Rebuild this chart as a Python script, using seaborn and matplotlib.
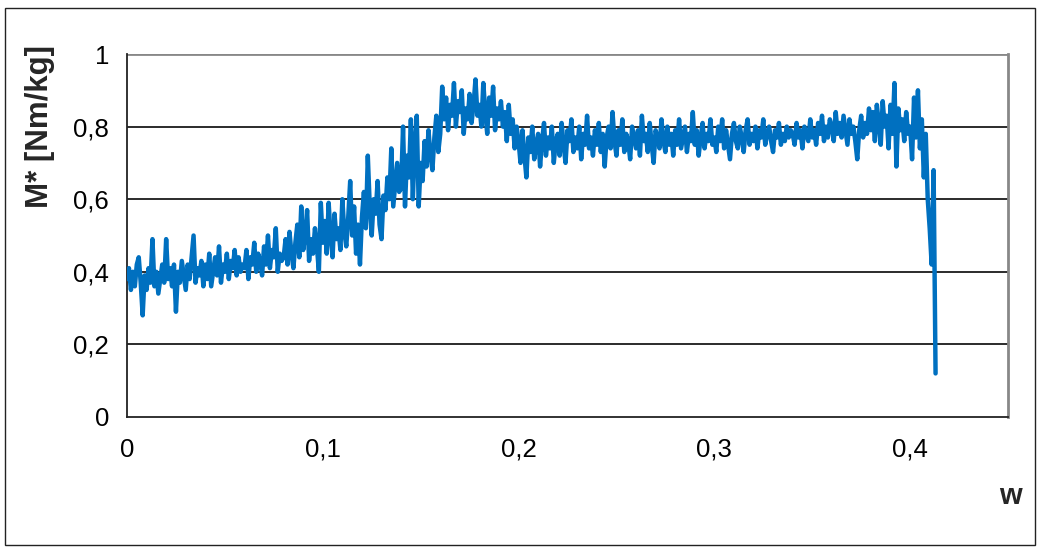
import numpy as np
import pandas as pd
import matplotlib
matplotlib.use("Agg")
import matplotlib.pyplot as plt
import seaborn as sns
from matplotlib.patches import Rectangle

# sampling step of the recorded signal (w units)
w_step = 0.001

# M* values, in order of increasing w
M_rise = [
    0.38,0.41,0.35,0.40,0.36,0.42,0.44,0.37,0.28,0.39,0.35,0.41,0.37,0.49,0.36,0.40,0.34,0.38,0.42,0.37,
    0.49,0.38,0.41,0.36,0.42,0.29,0.40,0.37,0.43,0.39,0.35,0.42,0.38,0.44,0.50,0.37,0.41,0.39,0.43,0.36,
    0.42,0.38,0.45,0.36,0.40,0.44,0.39,0.47,0.37,0.42,0.40,0.45,0.38,0.43,0.41,0.46,0.39,0.44,0.40,0.42,
    0.41,0.46,0.38,0.44,0.42,0.48,0.40,0.45,0.43,0.39,0.47,0.42,0.50,0.41,0.46,0.44,0.52,0.40,0.45,0.43,
    0.44,0.49,0.42,0.51,0.45,0.41,0.48,0.53,0.44,0.58,0.46,0.50,0.57,0.43,0.49,0.45,0.52,0.47,0.40,0.59,
    0.48,0.54,0.45,0.59,0.50,0.44,0.56,0.49,0.52,0.46,0.60,0.51,0.47,0.55,0.65,0.50,0.58,0.45,0.53,0.42,
    0.55,0.62,0.52,0.72,0.58,0.50,0.60,0.56,0.65,0.53,0.49,0.61,0.57,0.66,0.60,0.74,0.58,0.64,0.70,0.62,
]
M_peak = [
    0.63,0.80,0.58,0.72,0.66,0.82,0.60,0.75,0.83,0.58,0.70,0.65,0.76,0.69,0.79,0.72,0.68,0.77,0.83,0.73,
    0.78,0.91,0.82,0.88,0.79,0.86,0.83,0.92,0.80,0.87,0.84,0.90,0.78,0.85,0.82,0.89,0.81,0.86,0.93,0.83,
    0.86,0.80,0.92,0.84,0.78,0.88,0.83,0.91,0.79,0.85,0.82,0.87,0.80,0.84,0.76,0.86,0.78,0.82,0.74,0.80,
    0.76,0.70,0.79,0.72,0.66,0.77,0.73,0.80,0.71,0.75,0.78,0.69,0.76,0.81,0.72,0.77,0.74,0.80,0.70,0.76,
]
M_plateau = [
    0.78,0.72,0.81,0.75,0.70,0.79,0.76,0.82,0.73,0.77,0.74,0.80,0.71,0.78,0.75,0.83,0.74,0.77,0.72,0.79,
    0.75,0.81,0.73,0.78,0.69,0.77,0.80,0.74,0.84,0.76,0.72,0.79,0.75,0.82,0.73,0.78,0.76,0.71,0.80,0.77,
    0.74,0.79,0.72,0.83,0.76,0.78,0.73,0.81,0.75,0.70,0.79,0.77,0.74,0.82,0.76,0.73,0.80,0.75,0.78,0.72,
    0.79,0.75,0.82,0.74,0.77,0.80,0.73,0.78,0.76,0.84,0.75,0.79,0.72,0.77,0.81,0.74,0.78,0.76,0.82,0.75,
    0.77,0.73,0.80,0.76,0.82,0.74,0.79,0.75,0.71,0.78,0.81,0.76,0.74,0.80,0.77,0.73,0.79,0.82,0.75,0.78,
    0.76,0.80,0.74,0.79,0.77,0.82,0.75,0.78,0.80,0.76,0.73,0.79,0.77,0.81,0.75,0.78,0.76,0.80,0.77,0.79,
    0.78,0.75,0.81,0.77,0.79,0.74,0.80,0.78,0.76,0.82,0.77,0.79,0.75,0.81,0.78,0.83,0.76,0.80,0.77,0.82,
    0.80,0.76,0.84,0.78,0.81,0.77,0.83,0.79,0.75,0.82,0.78,0.80,0.76,0.71,0.79,0.83,0.77,0.81,0.78,0.85,
    0.79,0.84,0.76,0.86,0.81,0.75,0.87,0.80,0.83,0.74,0.86,0.78,0.92,0.69,0.85,0.79,0.82,0.76,0.84,0.78,
]
M_drop = [0.80,0.71,0.88,0.77,0.90,0.74,0.82,0.66,0.78,0.60,0.52,0.42,0.68,0.12]

x_ticks = [0, 0.1, 0.2, 0.3, 0.4]
x_tick_labels = ["0", "0,1", "0,2", "0,3", "0,4"]
y_ticks = [0, 0.2, 0.4, 0.6, 0.8, 1.0]
y_tick_labels = ["0", "0,2", "0,4", "0,6", "0,8", "1"]

M = np.array(M_rise + M_peak + M_plateau + M_drop)
w = np.arange(len(M)) * w_step
df = pd.DataFrame({"w": w, "M": M})

sns.set_theme(style="white")
plt.rcParams["font.family"] = ["Liberation Sans", "DejaVu Sans"]

W, H = 1039, 547
fig = plt.figure(figsize=(W / 100, H / 100), dpi=100)
fig.patch.set_facecolor("white")
ax = fig.add_axes([127 / W, 1 - 417 / H, (1008 - 127) / W, (417 - 54) / H])

# figure border
fig.patches.append(Rectangle((5 / W, 2 / H), (1035 - 5) / W, (539 - 2) / H,
                             transform=fig.transFigure, fill=False,
                             edgecolor="#222222", linewidth=1.0))

for yv in [0.2, 0.4, 0.6, 0.8]:
    ax.axhline(yv, color="#1a1a1a", linewidth=1.3, zorder=1)
ax.axhline(1.0, color="#888888", linewidth=2.0, zorder=1)

sns.lineplot(data=df, x="w", y="M", ax=ax, color="#0070C0", linewidth=3.2,
             estimator=None, sort=False, zorder=3)

ax.set_xlim(0, 0.45)
ax.set_ylim(0, 1)
ax.set_xticks(x_ticks)
ax.set_xticklabels(x_tick_labels)
ax.set_yticks(y_ticks)
ax.set_yticklabels(y_tick_labels)
ax.tick_params(axis="both", which="major", direction="out", length=7, width=1.0,
               color="#222222", labelsize=18.5, labelcolor="black", pad=6)
ax.tick_params(axis="x", pad=8)

for side in ["left", "bottom"]:
    ax.spines[side].set_color("#222222")
    ax.spines[side].set_linewidth(1.3)
ax.spines["right"].set_color("#888888")
ax.spines["right"].set_linewidth(2.0)
ax.spines["top"].set_visible(False)

ax.set_xlabel("")
ax.set_ylabel("")
fig.text(40 / W, 1 - 126 / H, "M* [Nm/kg]", rotation=90, ha="center", va="center",
         fontsize=22.5, fontweight="bold")
fig.text(1010 / W, 1 - 496 / H, "w", ha="center", va="center",
         fontsize=21, fontweight="bold")

fig.savefig("out.png", dpi=100, facecolor="white")
